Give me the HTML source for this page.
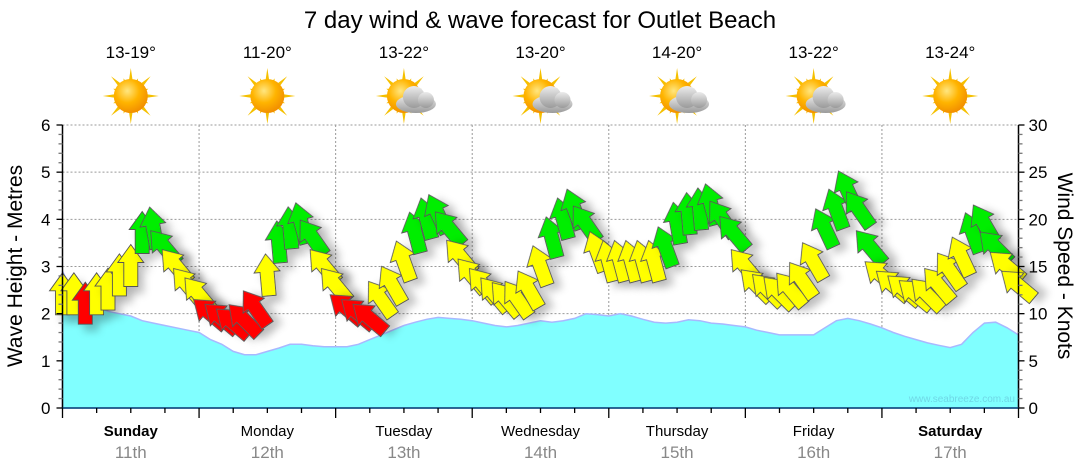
<!DOCTYPE html>
<html><head><meta charset="utf-8"><style>
html,body{margin:0;padding:0;background:#fff;}
svg{display:block;font-family:"Liberation Sans",sans-serif;}
</style></head><body>
<svg id="chart" width="1080" height="475" viewBox="0 0 1080 475" xmlns="http://www.w3.org/2000/svg">
<defs>
<filter id="shadow" x="-50%" y="-50%" width="200%" height="200%"><feDropShadow dx="6" dy="7" stdDeviation="4" flood-color="#000" flood-opacity="0.22"/></filter>
<radialGradient id="sunG" cx="0.4" cy="0.35" r="0.7"><stop offset="0" stop-color="#ffe680"/><stop offset="0.5" stop-color="#ffb400"/><stop offset="1" stop-color="#f08a00"/></radialGradient>
<linearGradient id="cloudG" x1="0" y1="0" x2="0" y2="1"><stop offset="0" stop-color="#ececec"/><stop offset="1" stop-color="#9a9a9a"/></linearGradient>
</defs>
<text x="540" y="28" text-anchor="middle" font-size="24" fill="#000">7 day wind &amp; wave forecast for Outlet Beach</text>
<g id="grid"></g>
<g id="waves"></g>
<g id="arrows"></g>
<g id="axes"></g>
<g id="header"></g>
<text transform="translate(22,266) rotate(-90)" text-anchor="middle" font-size="21">Wave Height - Metres</text>
<text transform="translate(1058,266) rotate(90)" text-anchor="middle" font-size="21">Wind Speed - Knots</text>
<text x="1015" y="402" text-anchor="end" font-size="10" fill="#6fd8e6">www.seabreeze.com.au</text>
</svg>
<script>
const days = ["Sunday","Monday","Tuesday","Wednesday","Thursday","Friday","Saturday"];
const dates = ["11th","12th","13th","14th","15th","16th","17th"];
const boldDays = [true,false,false,false,false,false,true];
const temps = ["13-19°","11-20°","13-22°","13-20°","14-20°","13-22°","13-24°"];
const cloudy = [false,false,true,true,true,true,false];
const waveTicks = [0,1,2,3,4,5,6];
const windTicks = [0,5,10,15,20,25,30];
// every 2 hours from Sunday 00:00
const windSpeed = [12,12,11,12,12.5,14,15,18.5,19,17,15,13,
 12,10,9.5,9,9.3,10.5,14,17.5,19,19.5,18,15,
 13,10.5,10,9.5,11.5,13,15.5,18.5,20,20.5,19,16,
 14,13,12,11.5,11.5,12.5,15,18,20,21,19.5,16.5,
 15.5,15.5,15.5,15.5,15.5,17,19.5,20.5,21,21.5,20,18.5,
 15,13,12.5,12.2,12.5,13.5,15.5,19,21,23,21,17,
 14,13,12.5,12,12,13,14.5,16,18.5,19.5,17,15,13];
const windDir = [0,0,0,0,0,0,0,0,-10,-40,-40,-40,
 -40,-50,-50,-50,-45,-35,-5,-5,-5,-15,-35,-40,
 -40,-50,-50,-50,-35,-30,-20,-15,-15,-25,-40,-40,
 -40,-40,-40,-40,-35,-30,-20,-15,-15,-20,-35,-20,
 -15,-15,-15,-15,-15,-20,-10,-5,-5,-15,-35,-40,
 -40,-45,-45,-45,-40,-35,-30,-25,-20,-25,-35,-40,
 -50,-50,-50,-50,-45,-40,-35,-25,-20,-30,-45,-50,-50];
const waveHeight = [2.9,2.4,2.25,2.15,2.05,2.0,1.95,1.85,1.8,1.75,1.7,1.65,
 1.6,1.45,1.35,1.2,1.13,1.13,1.2,1.27,1.35,1.35,1.32,1.3,
 1.3,1.3,1.35,1.45,1.55,1.65,1.75,1.82,1.88,1.92,1.9,1.88,
 1.85,1.8,1.75,1.72,1.75,1.8,1.85,1.82,1.85,1.9,2.0,1.98,
 1.95,2.0,1.95,1.88,1.82,1.8,1.82,1.87,1.85,1.8,1.78,1.75,
 1.72,1.65,1.6,1.55,1.55,1.55,1.55,1.7,1.85,1.9,1.85,1.78,
 1.7,1.6,1.52,1.45,1.38,1.33,1.28,1.35,1.6,1.8,1.82,1.7,1.55];

const NS="http://www.w3.org/2000/svg";
const X0=62.5,X1=1018.5,Y0=408,Y1=125;
const dayW=(X1-X0)/7;
const xHour=h=>X0+h*dayW/24;
const yWave=m=>Y0-m*(Y0-Y1)/6;
const yWind=k=>Y0-k*(Y0-Y1)/30;
function mk(tag,attrs,parent){const e=document.createElementNS(NS,tag);for(const k in attrs)e.setAttribute(k,attrs[k]);parent.appendChild(e);return e;}
const grid=document.getElementById('grid'),axes=document.getElementById('axes'),header=document.getElementById('header');

waveTicks.forEach(t=>{if(t>0){const l=mk('line',{x1:X0,x2:X1,y1:yWave(t),y2:yWave(t),stroke:'#999','stroke-dasharray':'2,2','stroke-width':1},grid);

}});
for(let d=1;d<7;d++){const l=mk('line',{x1:X0+d*dayW,x2:X0+d*dayW,y1:Y1,y2:Y0,stroke:'#999','stroke-dasharray':'2,2','stroke-width':1},grid);

}

let pd=`M${X0},${Y0}`;
waveHeight.forEach((v,i)=>{pd+=` L${xHour(i*2).toFixed(1)},${yWave(v).toFixed(1)}`});
pd+=` L${X1},${Y0} Z`;
const wa=mk('path',{d:pd,fill:'#80ffff',stroke:'#a8b8ff','stroke-width':1.5},document.getElementById('waves'));



const ag=document.getElementById('arrows');
const shape="0,-22 13,-4 7,-4 7,20 -7,20 -7,-4 -13,-4";
windSpeed.forEach((s,i)=>{
  const col=s>=17?'#00ee00':(s<11.3?'#ff0000':'#ffff00');
  const p=mk('polygon',{points:shape,fill:col,stroke:'#555','stroke-width':0.9,filter:'url(#shadow)',
    transform:`translate(${xHour(i*2).toFixed(1)},${yWind(s).toFixed(1)}) rotate(${windDir[i]})`},ag);
  
  
});

mk('line',{x1:X0,x2:X0,y1:Y1,y2:Y0,stroke:'#000','stroke-width':1.5},axes);
mk('line',{x1:X1,x2:X1,y1:Y1,y2:Y0,stroke:'#000','stroke-width':1.5},axes);
mk('line',{x1:X0,x2:X1,y1:Y0,y2:Y0,stroke:'#004070','stroke-width':1.5},axes);
for(let m=0;m<=30;m++){const y=Y0-m*(Y0-Y1)/30;const maj=m%5===0;
  mk('line',{x1:X0-(maj?6:4),x2:X0,y1:y,y2:y,stroke:maj?'#000':'#777','stroke-width':1.3},axes);
  mk('line',{x1:X1,x2:X1+(maj?6:4),y1:y,y2:y,stroke:maj?'#000':'#777','stroke-width':1.3},axes);}
waveTicks.forEach(t=>{const e=mk('text',{x:X0-12,y:yWave(t)+6,'text-anchor':'end','font-size':17},axes);e.textContent=t;

});
windTicks.forEach(t=>{const e=mk('text',{x:X1+10,y:yWind(t)+6,'font-size':17},axes);e.textContent=t;

});
for(let q=0;q<=28;q++){const x=X0+q*dayW/4;mk('line',{x1:x,x2:x,y1:Y0,y2:Y0+(q%4===0?10:5),stroke:'#000','stroke-width':1.3},axes);}
days.forEach((d,i)=>{const cx=X0+(i+0.5)*dayW;
  const t=mk('text',{x:cx,y:436,'text-anchor':'middle','font-size':15,'font-weight':boldDays[i]?'bold':'normal'},axes);t.textContent=d;
  
  
  const t2=mk('text',{x:cx,y:458,'text-anchor':'middle','font-size':17,fill:'#888'},axes);t2.textContent=dates[i];
  
  
  const t3=mk('text',{x:cx,y:58,'text-anchor':'middle','font-size':17},header);t3.textContent=temps[i];
  
  
  const g=mk('g',{transform:`translate(${cx},96)`},header);
  
  
  let rays='';for(let r=0;r<16;r++){const a=r*Math.PI/8,L=r%2?19:28,w=0.2;
    rays+=`M${(Math.sin(a-w)*12).toFixed(1)},${(-Math.cos(a-w)*12).toFixed(1)} L${(Math.sin(a)*L).toFixed(1)},${(-Math.cos(a)*L).toFixed(1)} L${(Math.sin(a+w)*12).toFixed(1)},${(-Math.cos(a+w)*12).toFixed(1)} Z `;}
  mk('path',{d:rays,fill:'#f5c000'},g);
  mk('circle',{r:17,fill:'url(#sunG)'},g);
  if(cloudy[i]){const c=mk('g',{transform:'translate(12,3)'},g);
    mk('ellipse',{cx:0,cy:5,rx:20,ry:9,fill:'url(#cloudG)'},c);
    mk('circle',{cx:-2,cy:-2,r:11,fill:'url(#cloudG)'},c);
    mk('circle',{cx:10,cy:1,r:8,fill:'url(#cloudG)'},c);}
});
</script>
</body></html>
